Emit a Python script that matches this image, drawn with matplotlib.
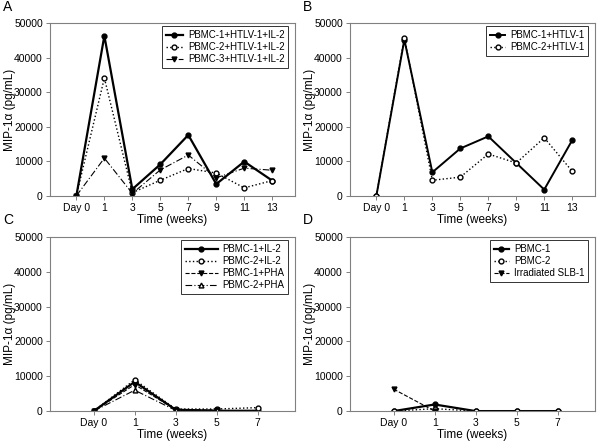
import matplotlib
matplotlib.use('Agg')
import matplotlib.pyplot as plt

plt.rcParams['font.family'] = ['Liberation Sans', 'DejaVu Sans']

# panel A / B: weeks
ticks_ab = ['Day 0', '1', '3', '5', '7', '9', '11', '13']
a_pbmc1 = [0, 46300, 1900, 9100, 17600, 3400, 9900, 4400]
a_pbmc2 = [0, 34100, 900, 4500, 7900, 6600, 2300, 4400]
a_pbmc3 = [0, 10900, 700, 7500, 11800, 5200, 8000, 7400]

b_pbmc1 = [0, 45200, 6800, 13700, 17200, 9500, 1800, 16100]
b_pbmc2 = [0, 45800, 4500, 5400, 12100, 9500, 16800, 7100]

# panel C / D
ticks_cd = ['Day 0', '1', '3', '5', '7']
c_pbmc1_il2 = [0, 8400, 400, 100, 100]
c_pbmc2_il2 = [0, 9000, 600, 600, 1000]
c_pbmc1_pha = [0, 7600, 400, 300]
c_pbmc2_pha = [0, 6000, 200, 200]

d_pbmc1 = [0, 1900, 0, 0, 0]
d_pbmc2 = [0, 700, 0, 0, 0]
d_slb1 = [6300, 0]

fig = plt.figure(figsize=(6, 4.43), dpi=100)
spine_col = '#808080'

def setup(ax, ticks, xlim, letter):
    ax.set_xlim(*xlim)
    ax.set_ylim(0, 50000)
    ax.set_yticks(range(0, 50001, 10000))
    ax.set_xticks(range(len(ticks)))
    ax.set_xticklabels(ticks)
    ax.tick_params(labelsize=7.5, length=3, width=0.7, color=spine_col, pad=2)
    for s in ax.spines.values():
        s.set_color(spine_col)
        s.set_linewidth(0.8)
    ax.set_xlabel('Time (weeks)', fontsize=8.5)
    ax.xaxis.set_label_coords(0.5, -0.105)
    ax.set_ylabel('MIP-1\u03b1 (pg/mL)', fontsize=8.5)
    ax.yaxis.set_label_coords(-0.138, 0.5)
    ax.text(-0.19, 1.055, letter, transform=ax.transAxes, fontsize=10, va='bottom')

def leg(ax, hl):
    l = ax.legend(loc='upper right', bbox_to_anchor=(0.975, 0.98), fontsize=7,
                  handlelength=hl, frameon=True, fancybox=False, borderpad=0.4,
                  labelspacing=0.2, handletextpad=0.5, borderaxespad=0)
    l.get_frame().set_edgecolor('black')
    l.get_frame().set_linewidth(0.7)

x8 = range(len(ticks_ab))
ms = 3.5

axA = fig.add_axes([0.083, 0.558, 0.408, 0.39])
axA.plot(x8, a_pbmc1, '-', color='black', lw=1.6, marker='o', ms=ms, label='PBMC-1+HTLV-1+IL-2')
axA.plot(x8, a_pbmc2, ':', color='black', lw=1, marker='o', ms=ms, mfc='white', label='PBMC-2+HTLV-1+IL-2')
axA.plot(x8, a_pbmc3, linestyle=(0, (6, 2, 1, 2)), color='black', lw=0.8, marker='v', ms=ms, label='PBMC-3+HTLV-1+IL-2')
setup(axA, ticks_ab, (-0.95, 7.8), 'A')
leg(axA, 1.8)

axB = fig.add_axes([0.583, 0.558, 0.408, 0.39])
axB.plot(x8, b_pbmc1, '-', color='black', lw=1.4, marker='o', ms=ms, label='PBMC-1+HTLV-1')
axB.plot(x8, b_pbmc2, ':', color='black', lw=1, marker='o', ms=ms, mfc='white', label='PBMC-2+HTLV-1')
setup(axB, ticks_ab, (-0.95, 7.8), 'B')
leg(axB, 1.6)

axC = fig.add_axes([0.083, 0.072, 0.408, 0.393])
axC.plot(range(5), c_pbmc1_il2, '-', color='black', lw=1.6, marker='o', ms=ms, label='PBMC-1+IL-2')
axC.plot(range(5), c_pbmc2_il2, ':', color='black', lw=1, marker='o', ms=ms, mfc='white', label='PBMC-2+IL-2')
axC.plot(range(4), c_pbmc1_pha, '--', color='black', lw=0.8, marker='v', ms=ms, label='PBMC-1+PHA')
axC.plot(range(4), c_pbmc2_pha, linestyle=(0, (6, 2, 1, 2)), color='black', lw=0.8, marker='^', ms=ms, mfc='white', label='PBMC-2+PHA')
setup(axC, ticks_cd, (-1.07, 4.9), 'C')
leg(axC, 3.4)

axD = fig.add_axes([0.583, 0.072, 0.408, 0.393])
axD.plot(range(5), d_pbmc1, '-', color='black', lw=1.6, marker='o', ms=ms, label='PBMC-1')
axD.plot(range(5), d_pbmc2, ':', color='black', lw=1, marker='o', ms=ms, mfc='white', label='PBMC-2')
axD.plot(range(2), d_slb1, '--', color='black', lw=0.8, marker='v', ms=ms, label='Irradiated SLB-1')
setup(axD, ticks_cd, (-1.07, 4.9), 'D')
leg(axD, 1.6)

fig.savefig('out.png', dpi=100)
